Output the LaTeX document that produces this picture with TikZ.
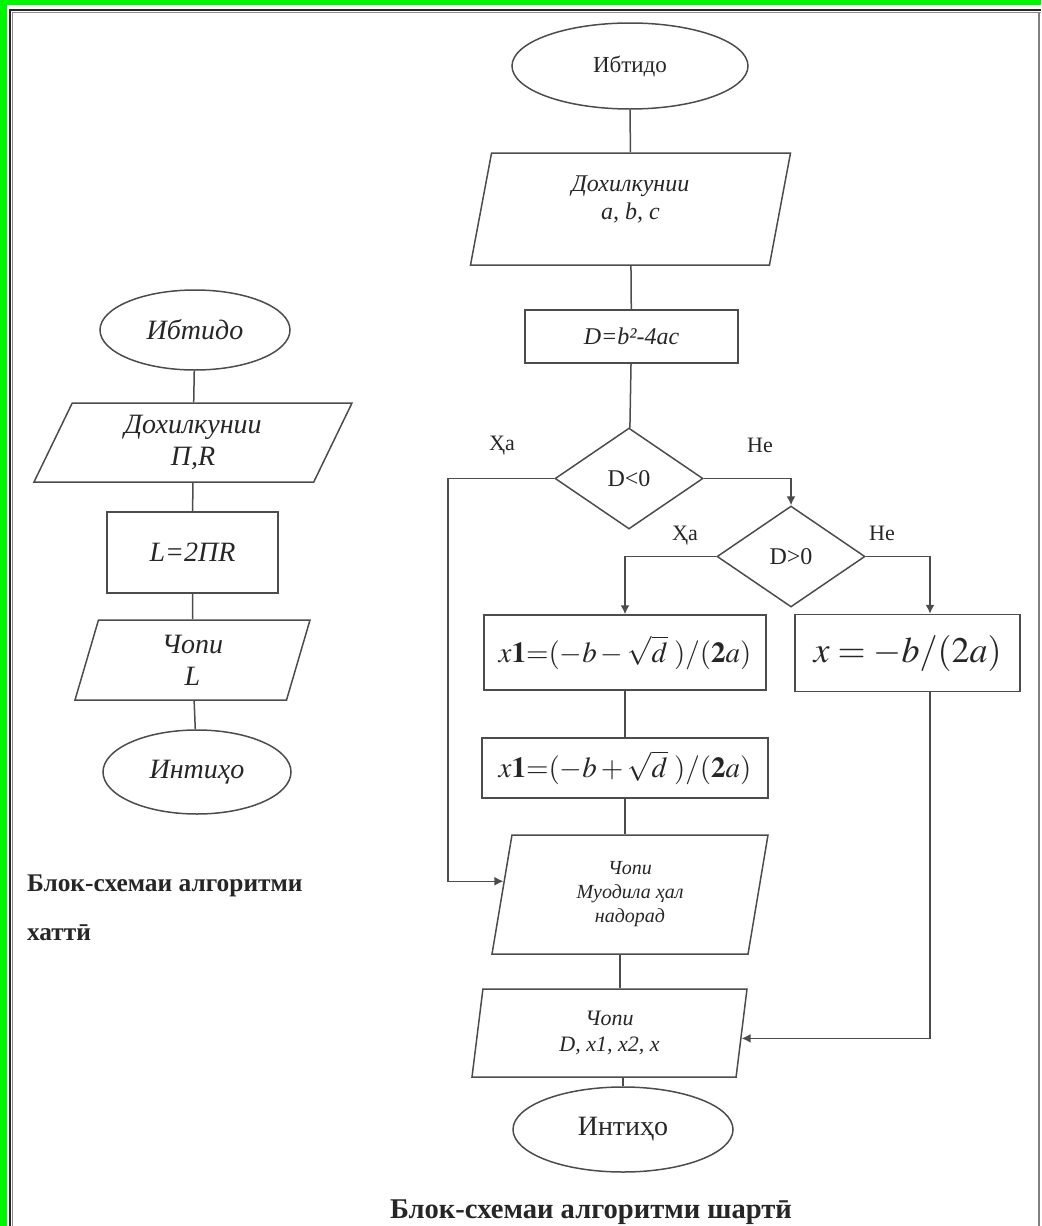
\documentclass[tikz,border=0pt]{standalone}
\usepackage{mathptmx}
\usepackage[no-math]{fontspec}
\setmainfont{Liberation Serif}
\usepackage{tikz}
\usetikzlibrary{shapes.geometric,arrows.meta,calc}
\definecolor{frameg}{RGB}{0,245,0}

\begin{document}
\begin{tikzpicture}[
  x=0.5pt, y=-0.5pt,
  every node/.style={text=black!85},
  outl/.style={draw=black!70, line width=0.75pt},
  term/.style={outl, ellipse, inner sep=0pt, align=center},
  io/.style={outl, trapezium, trapezium stretches body, inner sep=0pt, align=center},
  proc/.style={outl, rectangle, inner sep=0pt, align=center},
  cond/.style={outl, diamond, inner sep=0pt, align=center},
  arr/.style={outl, -{Latex[length=4.5pt, width=4.5pt]}},
  lbl/.style={font=\fontsize{11}{13}\selectfont},
]
\useasboundingbox (0,0) rectangle (1041,1226);
% page frame
\fill[frameg] (0,0) rectangle (1041,5);
\fill[frameg] (0,0) rectangle (7,1226);
\draw[black!85, line width=1pt] (9.5,1226) -- (9.5,9.5) -- (1041,9.5);
\draw[black!45, line width=0.5pt] (12.5,1226) -- (12.5,12.5) -- (1041,12.5);
\draw[black!50, line width=0.6pt] (1039,12.5) -- (1039,1226);

% linear algorithm (left)
\node[term, minimum width=95pt, minimum height=40pt, font=\fontsize{14}{16}\selectfont\itshape] (begL) at (195,330) {Ибтидо};
\node[io, minimum width=159pt, minimum height=39.5pt, trapezium left angle=55, trapezium right angle=125,
      font=\fontsize{14}{16}\selectfont\itshape] (inL) at (193,442.5) {Дохилкунии\\П,R};
\node[proc, minimum width=85.5pt, minimum height=40.5pt, font=\fontsize{14}{16}\selectfont\itshape] (calcL) at (192.5,552.5) {L=2ПR};
\node[io, minimum width=117.5pt, minimum height=40pt, trapezium left angle=65, trapezium right angle=115,
      font=\fontsize{14}{16}\selectfont\itshape] (outL) at (192.5,660) {Чопи\\L};
\node[term, minimum width=94pt, minimum height=42pt, font=\fontsize{14}{16}\selectfont\itshape] (endL) at (197,772) {Интиҳо};
\node[anchor=north west, align=left, font=\fontsize{12.7}{24.5}\selectfont\bfseries] (capL) at (20,868) {Блок-схемаи алгоритми\\хаттӣ};

% branching algorithm (right)
\node[term, minimum width=118pt, minimum height=43pt, font=\fontsize{11.5}{13}\selectfont] (begR) at (630,66) {Ибтидо};
\node[io, minimum width=160pt, minimum height=56pt, trapezium left angle=69.4, trapezium right angle=110.6,
      font=\fontsize{12}{14}\selectfont\itshape] (inR) at (630.5,209)
     {\raisebox{4.5pt}[\height][\depth]{\begin{tabular}{@{}c@{}}Дохилкунии\\a, b, c\end{tabular}}};
\node[proc, minimum width=106.5pt, minimum height=26.5pt, font=\fontsize{12}{14}\selectfont\itshape] (disc) at (631.5,336.5) {D=b²-4ac};
\node[cond, minimum width=74pt, minimum height=50.5pt, font=\fontsize{12}{14}\selectfont] (d1) at (629,478.5) {D<0};
\node[cond, minimum width=74pt, minimum height=50.5pt, font=\fontsize{12}{14}\selectfont] (d2) at (791,556.5) {D>0};
\node[proc, minimum width=141pt, minimum height=37.5pt, font=\fontsize{14.5}{17}\selectfont] (box1) at (625,652.5)
     {$x\mathbf{1}{=}(-b-\sqrt{d}\;)/(\mathbf{2}a)$};
\node[proc, minimum width=112.5pt, minimum height=38.5pt, font=\fontsize{18}{21}\selectfont] (box3) at (907.5,653)
     {$x=-b/(2a)$};
\node[proc, minimum width=143pt, minimum height=30pt, font=\fontsize{14.5}{17}\selectfont] (box2) at (625,768)
     {$x\mathbf{1}{=}(-b+\sqrt{d}\;)/(\mathbf{2}a)$};
\node[io, minimum width=138pt, minimum height=59.5pt, trapezium left angle=73, trapezium right angle=107,
      font=\fontsize{10}{12}\selectfont\itshape] (noSol) at (630,894.5) {Чопи\\Муодила ҳал\\надорад};
\node[io, minimum width=137.5pt, minimum height=44pt, trapezium left angle=76, trapezium right angle=104,
      font=\fontsize{11}{13}\selectfont\itshape] (outR) at (609.5,1033) {Чопи\\D, x1, x2, x};
\node[term, minimum width=110pt, minimum height=42.5pt, font=\fontsize{14}{16}\selectfont] (endR) at (623,1129.5) {Интиҳо};
\node[font=\fontsize{14.3}{16}\selectfont\bfseries] (capR) at (591,1212) {Блок-схемаи алгоритми шартӣ};

% branch labels
\node[lbl] (ha1) at (502,446) {Ҳа};
\node[lbl] (ne1) at (760,445) {Не};
\node[lbl] (ha2) at (685,536) {Ҳа};
\node[lbl] (ne2) at (882,533) {Не};
\coordinate (haturn) at (448,478.5);
\coordinate (neturn) at (930,556.5);

% connectors
\draw[outl] (begL) -- (inL); \draw[outl] (inL) -- (calcL); \draw[outl] (calcL) -- (outL); \draw[outl] (outL) -- (endL);
\draw[outl] (begR) -- (inR); \draw[outl] (inR) -- (disc); \draw[outl] (disc) -- (d1);
\draw[arr] (d1.west) -- (haturn) |- ($(noSol.bottom left corner)!0.61!(noSol.top left corner)$);
\draw[arr] (d1.east) -| (d2.north);
\draw[arr] (d2.west) -| (box1.north);
\draw[arr] (d2.east) -- (neturn) -- (neturn |- box3.north);
\draw[outl] (box1) -- (box2);
\draw[outl] (box2.south) -- (box2.south |- noSol.top side);
\draw[outl] (noSol.bottom side) -- (noSol.bottom side |- outR.top side);
\draw[arr] (neturn |- box3.south) |- ($(outR.bottom right corner)!0.44!(outR.top right corner)$);
\draw[outl] (endR.north |- outR.bottom side) -- (endR.north);
\end{tikzpicture}
\end{document}
